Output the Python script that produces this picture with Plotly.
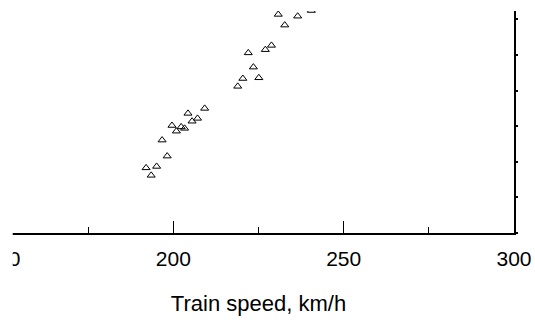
import plotly.graph_objects as go

# Data (x: train speed in km/h, y: arbitrary units, one tick = 10)
speed = [192.0, 193.5, 195.1, 196.7, 198.2, 199.6, 200.9, 202.3, 203.3, 204.3,
         205.5, 207.1, 209.2, 218.9, 220.4, 222.0, 223.5, 225.1, 227.0, 228.8,
         230.8, 232.7, 236.5, 240.5]
level = [18.3, 16.2, 18.7, 26.1, 21.6, 30.2, 28.6, 29.8, 29.4, 33.6,
         31.4, 32.2, 35.0, 41.2, 43.4, 50.6, 46.6, 43.6, 51.5, 52.7,
         61.4, 58.4, 60.9, 62.5]
x_ticks = [150, 200, 250, 300]

FONT = "Liberation Sans, Arial, sans-serif"

fig = go.Figure()
fig.add_trace(go.Scatter(
    x=speed, y=level, mode="markers",
    marker=dict(symbol="triangle-up-open", size=7, color="black",
                line=dict(width=1, color="black")),
    showlegend=False,
))

fig.update_layout(
    width=535, height=331,
    margin=dict(l=3, r=21, t=11, b=98, pad=0, autoexpand=False),
    paper_bgcolor="white", plot_bgcolor="white",
    font=dict(family=FONT, color="black"),
    xaxis=dict(
        range=[150, 300], tickvals=x_ticks, ticktext=[str(v) for v in x_ticks],
        ticks="inside", ticklen=12, tickwidth=1, tickcolor="black",
        minor=dict(dtick=25, tick0=150, ticks="inside", ticklen=6, tickwidth=1, tickcolor="black"),
        showline=True, linecolor="black", linewidth=2, showgrid=False, zeroline=False,
        tickfont=dict(size=21, family=FONT), ticklabelstandoff=6,
        ticklabeloverflow="allow", automargin=False,
        title=dict(text="Train speed, km/h", font=dict(size=22, family=FONT), standoff=26),
    ),
    yaxis=dict(
        range=[0, 62.36], dtick=10, side="right",
        ticks="outside", ticklen=2, tickwidth=2, tickcolor="black",
        showticklabels=False, showline=True, linecolor="black", linewidth=2,
        showgrid=False, zeroline=False, automargin=False,
    ),
    shapes=[dict(type="rect", xref="paper", yref="paper", x0=-0.02, x1=0.019,
                 y0=-0.6, y1=1.1, fillcolor="white", line=dict(width=0), layer="above")],
)

fig.write_html("out.html")
